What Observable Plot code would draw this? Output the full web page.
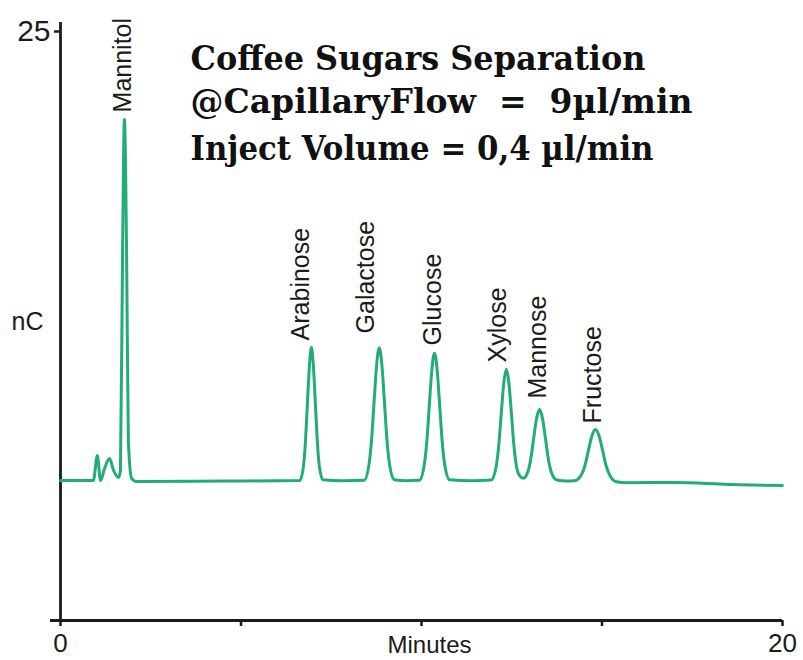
<!DOCTYPE html>
<html>
<head>
<meta charset="utf-8">
<script src="https://cdn.jsdelivr.net/npm/d3@7"></script>
<script src="https://cdn.jsdelivr.net/npm/@observablehq/plot@0.6"></script>
<style>
  html, body { margin: 0; padding: 0; background: #fff; }
  #chart { width: 803px; height: 660px; overflow: hidden; }
</style>
</head>
<body>
<div id="chart"></div>
<script>
// Chromatogram trace: time (minutes) and signal (nC)
const times = [
  0, 0.91, 1.02, 1.11, 1.22, 1.36, 1.47, 1.61, 1.66, 1.72, 1.77, 1.83, 1.88, 1.97, 2.10, 4.50,
  6.63, 6.74, 6.79, 6.845, 6.90, 6.95, 7.00, 7.055, 7.11, 7.16, 7.27, 7.80,
  8.41, 8.55, 8.62, 8.69, 8.76, 8.83, 8.90, 8.97, 9.04, 9.11, 9.25, 9.60,
  9.94, 10.08, 10.15, 10.22, 10.29, 10.36, 10.43, 10.50, 10.57, 10.64, 10.78, 11.40,
  11.93, 12.07, 12.14, 12.21, 12.28, 12.35, 12.42, 12.49, 12.56, 12.63, 12.72, 12.82,
  12.95, 13.03, 13.11, 13.19, 13.27, 13.35, 13.43, 13.51, 13.59, 13.75, 14.00,
  14.24, 14.43, 14.53, 14.625, 14.72, 14.82, 14.92, 15.015, 15.11, 15.21, 15.40,
  15.70, 17.00, 18.50, 20.00
];
const signal = [
  5.85, 5.85, 6.90, 5.85, 6.35, 6.77, 6.27, 5.98, 6.27, 15.5, 20.95, 15.5, 7.5, 5.94, 5.81, 5.83,
  5.85, 6.58, 7.61, 9.24, 10.75, 11.42, 10.75, 9.24, 7.61, 6.58, 5.88, 5.84,
  5.86, 6.57, 7.61, 9.22, 10.73, 11.40, 10.73, 9.22, 7.61, 6.57, 5.88, 5.84,
  5.86, 6.54, 7.53, 9.08, 10.53, 11.17, 10.53, 9.08, 7.53, 6.54, 5.88, 5.84,
  5.87, 6.45, 7.32, 8.67, 9.94, 10.50, 9.94, 8.67, 7.32, 6.45, 6.05, 5.95,
  6.23, 6.78, 7.65, 8.46, 8.82, 8.46, 7.65, 6.78, 6.23, 5.87, 5.83,
  5.84, 6.09, 6.49, 7.12, 7.71, 7.98, 7.71, 7.12, 6.49, 6.09, 5.80,
  5.76, 5.77, 5.69, 5.64
];

// Peak labels and where they sit (minutes, nC)
const peakNames   = ["Mannitol", "Arabinose", "Galactose", "Glucose", "Xylose", "Mannose", "Fructose"];
const labelTimes  = [1.72, 6.65, 8.45, 10.33, 12.11, 13.24, 14.76];
const labelLevels = [21.24, 11.71, 12.0, 11.5, 10.79, 9.28, 8.24];

// Axis ticks
const xTicks = [0, 5, 10, 15, 20];
const xTickLabels = ["0", "", "", "", "20"];
const yTicks = [25];

// Title lines
const titleLines = [
  "Coffee Sugars Separation",
  "@CapillaryFlow  =  9µl/min",
  "Inject Volume = 0,4 µl/min"
];

const trace = times.map((t, i) => ({t, v: signal[i]}));
const labels = peakNames.map((name, i) => ({name, t: labelTimes[i], v: labelLevels[i]}));

const ink = "#1b1b1b";
const green = "#22ad76";
const titleFont = "DejaVu Serif, Liberation Serif, serif";

const chart = Plot.plot({
  width: 803,
  height: 660,
  marginLeft: 60,
  marginRight: 21,
  marginTop: 22,
  marginBottom: 40,
  style: {fontFamily: "Liberation Sans, Arial, sans-serif", background: "white", color: ink},
  x: {domain: [0, 20]},
  y: {domain: [0, 25]},
  marks: [
    Plot.axisX({ticks: xTicks, tickFormat: d => xTickLabels[xTicks.indexOf(d)], tickSize: 6, tickPadding: 7,
      fontSize: 26, stroke: ink, strokeWidth: 2.5, fill: ink, label: null}),
    Plot.axisY({ticks: yTicks, tickSize: 6, tickPadding: 4, fontSize: 30, stroke: ink, strokeWidth: 2.5,
      fill: ink, label: null, dy: 9}),
    Plot.ruleX([0], {stroke: ink, strokeWidth: 2.8}),
    Plot.ruleY([0], {stroke: ink, strokeWidth: 2.8, insetLeft: -10}),
    Plot.line(trace, {x: "t", y: "v", stroke: green, strokeWidth: 3, curve: "monotone-x"}),
    Plot.text(labels, {x: "t", y: "v", text: "name", rotate: -90, textAnchor: "start", lineAnchor: "middle",
      fontSize: 25, fill: ink}),
    Plot.text(["nC"], {frameAnchor: "left", dx: -33, textAnchor: "middle", lineAnchor: "middle", fontSize: 25, fill: ink}),
    Plot.text(["Minutes"], {frameAnchor: "bottom", dx: 8, dy: 15, lineAnchor: "top", fontSize: 24, fill: ink}),
    Plot.text([titleLines[0]], {frameAnchor: "top-left", dx: 130, dy: 23, textAnchor: "start", lineAnchor: "top",
      fontSize: 34, fontWeight: "bold", fontFamily: titleFont, fill: "#111", className: "title-l1"}),
    Plot.text([titleLines[1]], {frameAnchor: "top-left", dx: 130, dy: 66, textAnchor: "start", lineAnchor: "top",
      fontSize: 34, fontWeight: "bold", fontFamily: titleFont, fill: "#111", className: "title-l2"}),
    Plot.text([titleLines[2]], {frameAnchor: "top-left", dx: 130, dy: 113, textAnchor: "start", lineAnchor: "top",
      fontSize: 34, fontWeight: "bold", fontFamily: titleFont, fill: "#111", className: "title-l3"})
  ]
});

document.getElementById("chart").appendChild(chart);

// Fit the title lines to the widths they occupy in the reference
const titleWidths = {"title-l1": 455, "title-l2": 502, "title-l3": 463};
for (const [cls, w] of Object.entries(titleWidths)) {
  chart.querySelectorAll(`.${cls} text`).forEach(t => {
    t.style.whiteSpace = "pre";
    t.setAttribute("textLength", w);
    t.setAttribute("lengthAdjust", "spacingAndGlyphs");
  });
}
</script>
</body>
</html>
